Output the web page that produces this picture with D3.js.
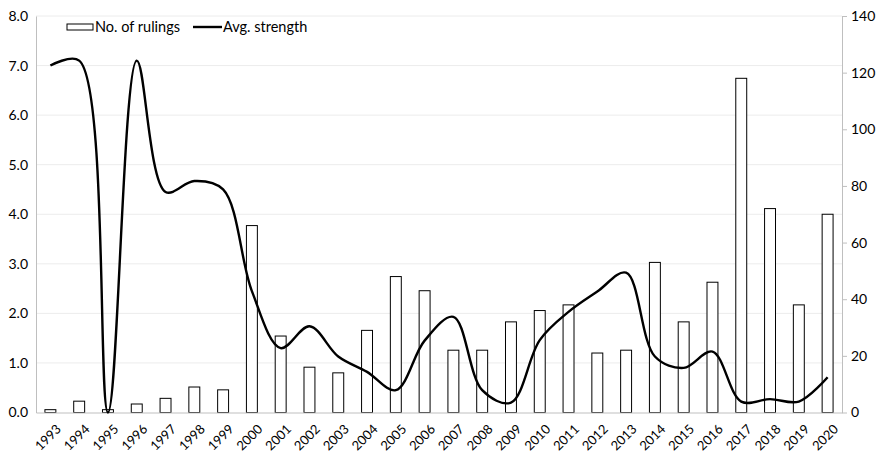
<!DOCTYPE html>
<html>
<head>
<meta charset="utf-8">
<script src="https://cdn.jsdelivr.net/npm/d3@7"></script>
<style>
  body { margin: 0; background: #fff; }
  text { font-family: Lato, "Open Sans", sans-serif; fill: #000; }
</style>
</head>
<body>
<div id="content"></div>
<script>
const w = 883
const h = 454
const margin = {top: 16, right: 41, bottom: 41.5, left: 36}

// data
const years = ["1993","1994","1995","1996","1997","1998","1999","2000","2001","2002",
  "2003","2004","2005","2006","2007","2008","2009","2010","2011","2012",
  "2013","2014","2015","2016","2017","2018","2019","2020"]
const rulings = [1,4,1,3,5,9,8,66,27,16,14,29,48,43,22,22,32,36,38,21,22,53,32,46,118,72,38,70]
const strength = [7.0,7.1,0.0,7.1,4.45,4.67,4.5,2.45,1.3,1.74,1.13,0.82,0.45,1.45,1.93,0.45,0.2,1.46,2.03,2.44,2.82,1.13,0.9,1.23,0.22,0.27,0.22,0.71]
const leftTicks = [0,1,2,3,4,5,6,7,8]
const rightTicks = [0,20,40,60,80,100,120,140]

let svg = d3.select("#content")
  .append("svg")
  .attr("width", w)
  .attr("height", h)

const x0 = margin.left, x1 = w - margin.right
const y0 = h - margin.bottom, y1 = margin.top

let x = d3.scaleBand().domain(years).range([x0, x1]).paddingInner(0.62).paddingOuter(0.31)
let yL = d3.scaleLinear().domain([0, 8]).range([y0, y1])
let yR = d3.scaleLinear().domain([0, 140]).range([y0, y1])

// gridlines
svg.append("g")
  .selectAll("line")
  .data(leftTicks.slice(1))
  .enter().append("line")
    .attr("x1", x0).attr("x2", x1)
    .attr("y1", d => yL(d)).attr("y2", d => yL(d))
    .attr("stroke", "#ececec").attr("stroke-width", 1)

// left axis
let gl = svg.append("g").attr("transform", "translate(" + x0 + ",0)")
  .call(d3.axisLeft(yL).tickValues(leftTicks).tickFormat(d3.format(".1f")).tickSize(0).tickPadding(8))
gl.select(".domain").attr("stroke", "#bfbfbf")
gl.selectAll("text").style("font-size", "14px").style("font-family", "Lato, sans-serif")

// right axis
let gr = svg.append("g").attr("transform", "translate(" + x1 + ",0)")
  .call(d3.axisRight(yR).tickValues(rightTicks).tickSize(5).tickSizeOuter(0).tickPadding(4))
gr.select(".domain").attr("stroke", "#bfbfbf")
gr.selectAll(".tick line").attr("stroke", "#bfbfbf")
gr.selectAll("text").style("font-size", "14px").style("font-family", "Lato, sans-serif")

// bars
svg.append("g")
  .selectAll("rect")
  .data(rulings)
  .enter().append("rect")
    .attr("x", (d, i) => x(years[i]))
    .attr("y", d => yR(d))
    .attr("width", x.bandwidth())
    .attr("height", d => y0 - yR(d))
    .attr("fill", "#fff")
    .attr("stroke", "#000")
    .attr("stroke-width", 1)

// bottom axis
let gb = svg.append("g").attr("transform", "translate(0," + y0 + ")")
  .call(d3.axisBottom(x).tickSize(0).tickPadding(6))
gb.select(".domain").attr("stroke", "#bfbfbf")
gb.selectAll("text")
  .style("font-size", "13px").style("font-family", "Lato, sans-serif")
  .attr("text-anchor", "end")
  .attr("dy", "0.35em")
  .attr("transform", "translate(4,10) rotate(-45)")

// line (centripetal catmull-rom is close to excel's smoothing)
let line = d3.line()
  .x((d, i) => x(years[i]) + x.bandwidth() / 2)
  .y(d => yL(d))
  .curve(d3.curveCatmullRom.alpha(0.5))

svg.append("path")
  .datum(strength)
  .attr("d", line)
  .attr("fill", "none")
  .attr("stroke", "#000")
  .attr("stroke-width", 2.4)

// legend
let lg = svg.append("g").attr("transform", "translate(67,27)")
lg.append("rect").attr("x", 0).attr("y", -3).attr("width", 26).attr("height", 6)
  .attr("fill", "#fff").attr("stroke", "#000").attr("stroke-width", 1)
lg.append("text").attr("x", 28).attr("y", 0).attr("dy", "0.35em")
  .style("font-size", "14.5px").text("No. of rulings")
lg.append("line").attr("x1", 126).attr("x2", 155).attr("y1", 0).attr("y2", 0)
  .attr("stroke", "#000").attr("stroke-width", 2.4)
lg.append("text").attr("x", 156).attr("y", 0).attr("dy", "0.35em")
  .style("font-size", "14.5px").text("Avg. strength")
</script>
</body>
</html>
